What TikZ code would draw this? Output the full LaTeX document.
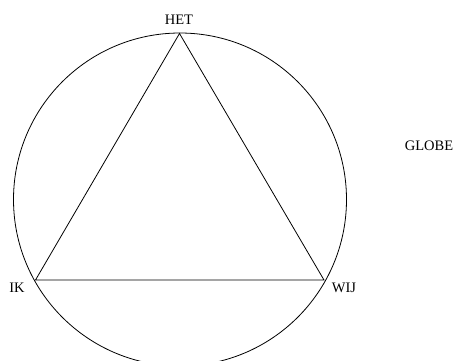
\documentclass[tikz,border=0pt]{standalone}
\usepackage{fontspec}
\setmainfont{Liberation Serif}
\begin{document}
\begin{tikzpicture}[x=1pt,y=-1pt,
  lbl/.style={font=\fontsize{14.5}{16}\selectfont, inner sep=0pt},
  edge/.style={line width=0.8pt}]
\useasboundingbox (0,0) rectangle (457,360);
\clip (0,0) rectangle (457,360);
\coordinate (ctr) at (180,199.5);
\draw[edge] (ctr) circle [radius=166.5];
\coordinate (het) at (179.5,33.5);
\coordinate (ik) at (35.5,280);
\coordinate (wij) at (324,280);
\draw[edge] (het) -- (ik) -- (wij) -- cycle;
\node[lbl] (hetl) at (179,19.5) {HET};
\node[lbl] (ikl) at (17,287.5) {IK};
\node[lbl] (wijl) at (344,287.5) {WIJ};
\node[lbl] (globe) at (429,145.5) {GLOBE};
\end{tikzpicture}
\end{document}
